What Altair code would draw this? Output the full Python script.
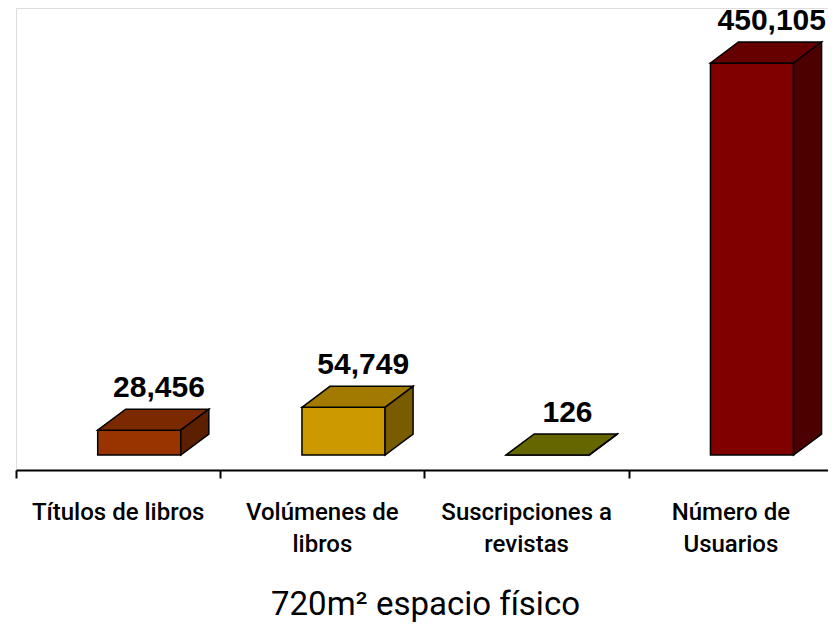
import altair as alt
import pandas as pd

# ---- data ----
categories = ["Títulos de libros", "Volúmenes de libros", "Suscripciones a revistas", "Número de Usuarios"]
category_lines = ["Títulos de libros", "Volúmenes de\nlibros", "Suscripciones a\nrevistas", "Número de\nUsuarios"]
values = [28456, 54749, 126, 450105]
front_colors = ["#993300", "#CC9900", "#808000", "#800000"]
top_colors = ["#7A2900", "#A37A00", "#666600", "#660000"]
side_colors = ["#5C1F00", "#7A5C00", "#4D4D00", "#4D0000"]
x_title = "720m² espacio físico"

# ---- layout ----
BAND_PX = 204.25
W, H = 812, 462
X_MAX = W / BAND_PX
Y_MIN, Y_MAX = -17223, 513245
units_per_px = (Y_MAX - Y_MIN) / H
DX = 28 / BAND_PX           # 3D depth, horizontal
DY = 21 * units_per_px      # 3D depth, vertical
FRONT_L, FRONT_R = 0.40, 0.807
LABEL_X = 0.70
LABEL_GAP = 12 * units_per_px

rows = []
for i, v in enumerate(values):
    x0, x1 = i + FRONT_L, i + FRONT_R
    fid = f"{i}-a-front"
    rows += [dict(face=fid, x=x0, lo=0, hi=v, fill=front_colors[i]),
             dict(face=fid, x=x1, lo=0, hi=v, fill=front_colors[i])]
    fid = f"{i}-b-top"
    for x, lo, hi in [(x0, v, v), (x0 + DX, v, v + DY), (x1, v, v + DY), (x1 + DX, v + DY, v + DY)]:
        rows.append(dict(face=fid, x=x, lo=lo, hi=hi, fill=top_colors[i]))
    fid = f"{i}-c-side"
    rows += [dict(face=fid, x=x1, lo=0, hi=v, fill=side_colors[i]),
             dict(face=fid, x=x1 + DX, lo=DY, hi=v + DY, fill=side_colors[i])]
faces = pd.DataFrame(rows)

labels = pd.DataFrame({
    "x": [i + LABEL_X for i in range(len(values))],
    "y": [v + DY + LABEL_GAP for v in values],
    "value": values,
})
cats = pd.DataFrame({"x": [i + 0.5 for i in range(len(categories))], "label": category_lines})

x_axis = alt.Axis(values=[0, 1, 2, 3], labels=False, grid=False, tickSize=8, tickWidth=2,
                  tickColor="black", domainColor="black", domainWidth=2,
                  title=x_title, titleFont="Roboto", titleFontSize=33, titleFontWeight="normal",
                  titleColor="black", titlePadding=109, titleX=262 - 8 + 155)
x_scale = alt.Scale(domain=[0, X_MAX], nice=False, zero=False)
y_scale = alt.Scale(domain=[Y_MIN, Y_MAX], nice=False, zero=False)

bars = alt.Chart(faces).mark_area(stroke="black", strokeWidth=1.5, strokeJoin="miter", opacity=1).encode(
    x=alt.X("x:Q", scale=x_scale, axis=x_axis),
    y=alt.Y("hi:Q", scale=y_scale, axis=None, stack=None),
    y2="lo:Q",
    color=alt.Color("fill:N", scale=None),
    detail="face:N",
    order=alt.Order("face:N"),
)

value_text = alt.Chart(labels).mark_text(
    font="Liberation Sans", fontSize=30, fontWeight="bold", baseline="alphabetic", align="center", color="black"
).encode(
    x=alt.X("x:Q", scale=x_scale, axis=x_axis),
    y=alt.Y("y:Q", scale=y_scale, axis=None),
    text=alt.Text("value:Q", format=","),
)

cat_text = alt.Chart(cats).mark_text(
    font="Roboto", fontSize=24, fontWeight=500, baseline="alphabetic", align="center",
    lineBreak="\n", lineHeight=32, color="black"
).encode(
    x=alt.X("x:Q", scale=x_scale, axis=x_axis),
    y=alt.value(512),
    text="label:N",
)

chart = alt.layer(bars, value_text, cat_text).properties(
    width=W, height=H,
    padding={"left": 8, "top": 0, "right": 0, "bottom": 154},
    autosize=alt.AutoSizeParams(type="none"),
).configure_view(stroke=None).configure(background="white")

chart.save("out.html", embed_options={"renderer": "svg", "actions": False})
